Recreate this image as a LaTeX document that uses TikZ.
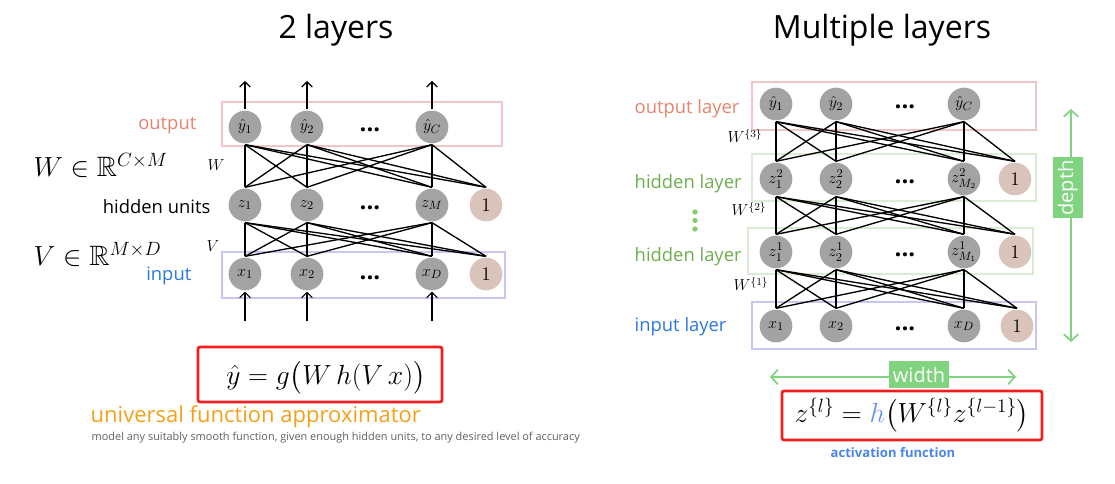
\documentclass[tikz,border=0pt]{standalone}
\usepackage{amsmath,amssymb}
\usepackage{fontspec}
\setmainfont{Open Sans}
\usetikzlibrary{arrows.meta}
\definecolor{nodegray}{HTML}{A3A3A3}
\definecolor{biasfill}{HTML}{D9C3BB}
\definecolor{pinkbox}{HTML}{F2C6C6}
\definecolor{bluebox}{HTML}{C6C6F5}
\definecolor{greenbox}{HTML}{DCEBD6}
\definecolor{outcol}{HTML}{E8826F}
\definecolor{incol}{HTML}{2A78DC}
\definecolor{hidcol}{HTML}{6CAE4E}
\definecolor{dotgreen}{HTML}{82CC6E}
\definecolor{dgreen}{HTML}{80D480}
\definecolor{orangecol}{HTML}{F5A01A}
\definecolor{graytext}{HTML}{606060}
\definecolor{redbox}{HTML}{F01E1E}
\definecolor{actblue}{HTML}{4A86E8}
\definecolor{hblue}{HTML}{6495ED}
\tikzset{
  unit/.style={circle, fill=nodegray, minimum size=24.5pt, inner sep=0pt, outer sep=1pt, font=\fontsize{12.5}{14}\selectfont},
  bias/.style={unit, fill=biasfill, font=\fontsize{14}{16}\selectfont},
  dotsn/.style={font=\fontsize{18}{20}\selectfont\bfseries},
  edge/.style={line width=1pt, black},
  arr/.style={line width=0.8pt, -{Straight Barb[length=4pt,width=8pt]}},
  obox/.style={draw=pinkbox, line width=1.6pt},
  ibox/.style={draw=bluebox, line width=1.6pt},
  hbox/.style={draw=greenbox, line width=1.6pt},
  rbox/.style={draw=redbox, line width=2pt, rounded corners=1.5pt},
  lab/.style={anchor=east, font=\fontsize{13.8}{16}\selectfont},
  title/.style={font=\fontsize{24}{28}\selectfont},
  wlab/.style={font=\fontsize{11.5}{13}\selectfont},
  darr/.style={draw=dgreen, line width=1.3pt, {Straight Barb[length=5pt,width=11pt]}-{Straight Barb[length=5pt,width=11pt]}},
  gtag/.style={fill=dgreen, text=white, inner sep=2pt, font=\fontsize{15}{17}\selectfont}
}
\begin{document}
\begin{tikzpicture}[x=0.75pt,y=-0.75pt]
\useasboundingbox (0,0) rectangle (1115,484);
% ---------------- left ----------------
\node[title] (t1) at (336,30) {2 layers};
\draw[obox] (222,102) rectangle (502,146);
\draw[ibox] (222,252) rectangle (505,298);
\node[unit] (y1) at (245,127) {$\hat y_1$};
\node[unit] (y2) at (307,127) {$\hat y_2$};
\node[unit] (yC) at (432,127) {$\hat y_C$};
\node[dotsn] (yd) at (370,130) {...};
\node[unit] (z1) at (245,205) {$z_1$};
\node[unit] (z2) at (307,205) {$z_2$};
\node[unit] (zM) at (432,205) {$z_M$};
\node[bias] (zb) at (486,205) {$1$};
\node[dotsn] (zd) at (370,208) {...};
\node[unit] (x1) at (245,274) {$x_1$};
\node[unit] (x2) at (307,274) {$x_2$};
\node[unit] (xD) at (432,274) {$x_D$};
\node[bias] (xb) at (486,274) {$1$};
\node[dotsn] (xd) at (370,278) {...};
\foreach \a in {y1,y2,yC}{\foreach \b in {z1,z2,zM,zb}{\draw[edge] (\a.south) -- (\b.north);}}
\foreach \a in {z1,z2,zM}{\foreach \b in {x1,x2,xD,xb}{\draw[edge] (\a.south) -- (\b.north);}}
\coordinate (o1) at (245,81); \coordinate (o2) at (307,81); \coordinate (oC) at (432,81);
\coordinate (i1) at (245,321); \coordinate (i2) at (307,321); \coordinate (iD) at (432,321);
\draw[arr] (y1.north) -- (o1); \draw[arr] (y2.north) -- (o2); \draw[arr] (yC.north) -- (oC);
\draw[arr] (i1) -- (x1.south); \draw[arr] (i2) -- (x2.south); \draw[arr] (iD) -- (xD.south);
\node[lab, text=outcol] (lo) at (201,126) {output};
\node[lab] (lh) at (215,207) {hidden units};
\node[lab, text=incol] (li) at (196,276) {input};
\node[wlab] (wl) at (216,165) {$W$};
\node[wlab] (vl) at (213,246) {$V$};
\node[anchor=base west, font=\fontsize{21}{25}\selectfont] (Wdef) at (29,177) {$W\in\mathbb{R}^{C\times M}$};
\node[anchor=base west, font=\fontsize{21}{25}\selectfont] (Vdef) at (29,266) {$V\in\mathbb{R}^{M\times D}$};
\draw[rbox] (198,347) rectangle (442,402);
\node[font=\fontsize{20.5}{24}\selectfont] (f1) at (326,378) {$\hat y = g\big(W\,h(V\,x)\big)$};
\node[anchor=west, text=orangecol, font=\fontsize{16.5}{19}\selectfont] (ua) at (86,417) {universal function approximator};
\node[anchor=west, text=graytext, font=\fontsize{8.2}{10}\selectfont] (ud) at (87,438) {model any suitably smooth function, given enough hidden units, to any desired level of accuracy};
% ---------------- right ----------------
\node[title] (t2) at (882,30) {Multiple layers};
\draw[obox] (752,82) rectangle (1036,130);
\draw[hbox] (752,154) rectangle (1036,201);
\draw[hbox] (748,228) rectangle (1033,274);
\draw[ibox] (752,302) rectangle (1036,349);
\node[unit] (Y1) at (776,104) {$\hat y_1$};
\node[unit] (Y2) at (836,104) {$\hat y_2$};
\node[unit] (YC) at (964,104) {$\hat y_C$};
\node[dotsn] (Yd) at (905,107) {...};
\node[unit] (B1) at (776,179) {$z^2_1$};
\node[unit] (B2) at (836,179) {$z^2_2$};
\node[unit] (BM) at (964,179) {$z^2_{M_2}$};
\node[bias] (Bb) at (1015,179) {$1$};
\node[dotsn] (Bd) at (905,182) {...};
\node[unit] (A1) at (776,252) {$z^1_1$};
\node[unit] (A2) at (836,252) {$z^1_2$};
\node[unit] (AM) at (964,252) {$z^1_{M_1}$};
\node[bias] (Ab) at (1015,252) {$1$};
\node[dotsn] (Ad) at (905,255) {...};
\node[unit] (X1) at (776,326) {$x_1$};
\node[unit] (X2) at (836,326) {$x_2$};
\node[unit] (XD) at (964,326) {$x_D$};
\node[bias] (Xb) at (1017,326) {$1$};
\node[dotsn] (Xd) at (905,329) {...};
\foreach \a in {Y1,Y2,YC}{\foreach \b in {B1,B2,BM,Bb}{\draw[edge] (\a.south) -- (\b.north);}}
\foreach \a in {B1,B2,BM}{\foreach \b in {A1,A2,AM,Ab}{\draw[edge] (\a.south) -- (\b.north);}}
\foreach \a in {A1,A2,AM}{\foreach \b in {X1,X2,XD,Xb}{\draw[edge] (\a.south) -- (\b.north);}}
\node[lab, anchor=west, text=outcol] (LO) at (630,109) {output layer};
\node[lab, anchor=west, text=hidcol] (LH2) at (630,184) {hidden layer};
\node[lab, anchor=west, text=hidcol] (LH1) at (630,257) {hidden layer};
\node[lab, anchor=west, text=incol] (LI) at (630,327) {input layer};
\foreach \yy in {212,220.5,229}{\fill[dotgreen] (695,\yy) circle (2pt);}
\node[wlab] (W3) at (745,136) {$W^{\{3\}}$};
\node[wlab] (W2) at (749,209) {$W^{\{2\}}$};
\node[wlab] (W1) at (751,284) {$W^{\{1\}}$};
\coordinate (dt) at (1071,109); \coordinate (db) at (1071,342);
\draw[darr] (dt) -- (db);
\node[gtag, rotate=90, minimum width=61*0.75pt, minimum height=30*0.75pt] (dep) at (1068,188) {depth};
\coordinate (wl0) at (770,377); \coordinate (wr0) at (1016,377);
\draw[darr] (wl0) -- (wr0);
\node[gtag, minimum width=60*0.75pt, minimum height=27*0.75pt] (wid) at (919,375) {width};
\draw[rbox] (782,391) rectangle (1042,440);
\node[font=\fontsize{20.5}{24}\selectfont] (f2) at (912,415) {$z^{\{l\}} = {\color{hblue}h}\big(W^{\{l\}}z^{\{l-1\}}\big)$};
\node[text=actblue, font=\fontsize{9.8}{11}\selectfont\bfseries] (act) at (893,453) {activation function};
\end{tikzpicture}
\end{document}
